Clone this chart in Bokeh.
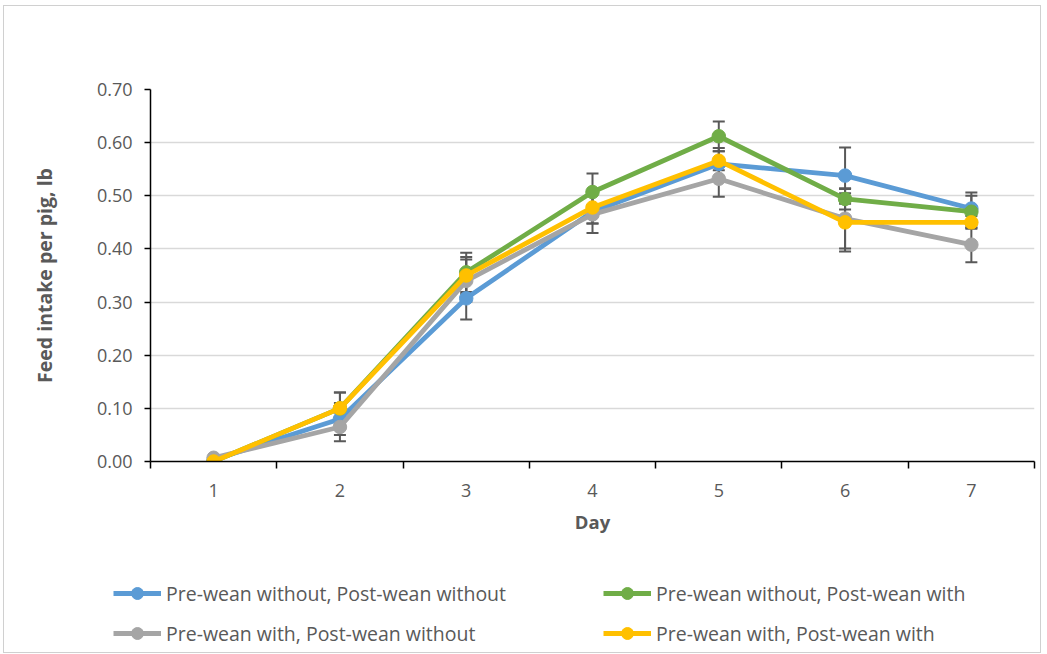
from bokeh.plotting import figure
from bokeh.models import (ColumnDataSource, Whisker, TeeHead, Legend, LegendItem,
                          FixedTicker, Range1d, NumeralTickFormatter)
from bokeh.embed import file_html
from bokeh.resources import INLINE

days = [1, 2, 3, 4, 5, 6, 7]
x_labels = ["1", "2", "3", "4", "5", "6", "7"]
y_ticks = [0.0, 0.1, 0.2, 0.3, 0.4, 0.5, 0.6, 0.7]

names = ["Pre-wean without, Post-wean without",
         "Pre-wean without, Post-wean with",
         "Pre-wean with, Post-wean without",
         "Pre-wean with, Post-wean with"]

s1_vals = [0.003, 0.08, 0.307, 0.47, 0.56, 0.538, 0.476]
s1_err = [0.0, 0.03, 0.04, 0.04, 0.03, 0.053, 0.03]
s2_vals = [0.0, 0.10, 0.356, 0.507, 0.612, 0.494, 0.47]
s2_err = [0.0, 0.03, 0.037, 0.035, 0.028, 0.02, 0.03]
s3_vals = [0.007, 0.065, 0.34, 0.465, 0.532, 0.457, 0.408]
s3_err = [0.0, 0.027, 0.04, 0.017, 0.034, 0.056, 0.033]
s4_vals = [0.0, 0.10, 0.35, 0.478, 0.566, 0.45, 0.45]
s4_err = [0.0, 0.03, 0.035, 0.03, 0.018, 0.055, 0.012]

colors = ["#5B9BD5", "#70AD47", "#A5A5A5", "#FFC000"]
series = [(s1_vals, s1_err), (s2_vals, s2_err), (s3_vals, s3_err), (s4_vals, s4_err)]

TXT = "#595959"
FONT = "Open Sans"
BORDER = "1px solid #d0d0d0"

p = figure(width=1038, height=554, output_backend="svg", toolbar_location=None,
           x_range=Range1d(0.5, 7.5), y_range=Range1d(0, 0.7),
           min_border_left=146, min_border_right=8, min_border_top=83,
           min_border_bottom=99)
p.outline_line_color = None
p.background_fill_color = "white"
p.border_fill_color = "white"
p.styles = {"margin-left": "3px", "margin-top": "5px", "border-top": BORDER,
            "border-left": BORDER, "border-right": BORDER}

# grid
p.xgrid.grid_line_color = None
p.ygrid.grid_line_color = "#d9d9d9"
p.ygrid.grid_line_width = 1.5
p.ygrid.ticker = FixedTicker(ticks=y_ticks)

# y axis
p.yaxis.ticker = FixedTicker(ticks=y_ticks)
p.yaxis.formatter = NumeralTickFormatter(format="0.00")
p.yaxis.axis_line_color = "black"
p.yaxis.axis_line_width = 1.5
p.yaxis.major_tick_line_color = "black"
p.yaxis.major_tick_line_width = 1.5
p.yaxis.major_tick_in = 0
p.yaxis.major_tick_out = 6
p.yaxis.minor_tick_line_color = None
p.yaxis.major_label_text_font = FONT
p.yaxis.major_label_text_font_size = "18px"
p.yaxis.major_label_text_color = TXT
p.yaxis.major_label_standoff = 12
p.yaxis.axis_label = "Feed intake per pig, lb"
p.yaxis.axis_label_text_font = FONT
p.yaxis.axis_label_text_font_size = "19.5px"
p.yaxis.axis_label_text_font_style = "bold"
p.yaxis.axis_label_text_color = TXT
p.yaxis.axis_label_standoff = 36

# x axis
p.xaxis.ticker = FixedTicker(ticks=days, minor_ticks=[d - 0.5 for d in days] + [7.5])
p.xaxis.major_label_overrides = {d: lab for d, lab in zip(days, x_labels)}
p.xaxis.axis_line_color = "black"
p.xaxis.axis_line_width = 1.5
p.xaxis.major_tick_line_color = None
p.xaxis.major_tick_in = 0
p.xaxis.major_tick_out = 0
p.xaxis.minor_tick_line_color = "black"
p.xaxis.minor_tick_line_width = 1.5
p.xaxis.minor_tick_in = 0
p.xaxis.minor_tick_out = 7
p.xaxis.major_label_text_font = FONT
p.xaxis.major_label_text_font_size = "18px"
p.xaxis.major_label_text_color = TXT
p.xaxis.major_label_standoff = 15
p.xaxis.axis_label = "Day"
p.xaxis.axis_label_text_font = FONT
p.xaxis.axis_label_text_font_size = "18.5px"
p.xaxis.axis_label_text_font_style = "bold"
p.xaxis.axis_label_text_color = TXT
p.xaxis.axis_label_standoff = 9

# error bars
for vals, err in series:
    src = ColumnDataSource(dict(x=days,
                                upper=[v + e for v, e in zip(vals, err)],
                                lower=[v - e for v, e in zip(vals, err)]))
    w = Whisker(base="x", upper="upper", lower="lower", source=src,
                line_color="#595959", line_width=2,
                upper_head=TeeHead(size=12, line_color="#595959", line_width=2),
                lower_head=TeeHead(size=12, line_color="#595959", line_width=2))
    p.add_layout(w)

for (vals, err), c in zip(series, colors):
    src = ColumnDataSource(dict(x=days, y=vals))
    p.line("x", "y", source=src, line_color=c, line_width=4.8)
    p.scatter("x", "y", source=src, size=13.5, fill_color=c, line_color=c)

# legend figure below (separate root so its frame spans the full width)
lf = figure(width=1038, height=94, output_backend="svg", toolbar_location=None,
            x_range=Range1d(0, 1), y_range=Range1d(0, 1),
            x_axis_type=None, y_axis_type=None,
            min_border=0, min_border_left=0, min_border_right=0,
            min_border_top=0, min_border_bottom=0)
lf.outline_line_color = None
lf.background_fill_color = "white"
lf.border_fill_color = "white"
lf.grid.visible = False
lf.styles = {"margin-left": "3px", "border-bottom": BORDER,
             "border-left": BORDER, "border-right": BORDER}

items = []
for c, name in zip(colors, names):
    dummy = ColumnDataSource(dict(x=[-5, -4], y=[-5, -5]))
    lr = lf.line("x", "y", source=dummy, line_color=c, line_width=5)
    sr = lf.scatter("x", "y", source=dummy, size=13, fill_color=c, line_color=c)
    items.append(LegendItem(label=name, renderers=[lr, sr]))

def make_legend(its, loc):
    return Legend(items=its, location=loc, orientation="vertical",
                  border_line_color=None, background_fill_alpha=0,
                  padding=0, margin=0, spacing=10,
                  glyph_width=48, glyph_height=30, label_height=20,
                  label_standoff=5,
                  label_text_font=FONT, label_text_font_size="19.5px",
                  label_text_color=TXT)

lf.add_layout(make_legend([items[0], items[2]], (109, 5)))
lf.add_layout(make_legend([items[1], items[3]], (599, 5)))

open("out.html", "w").write(file_html([p, lf], INLINE))
